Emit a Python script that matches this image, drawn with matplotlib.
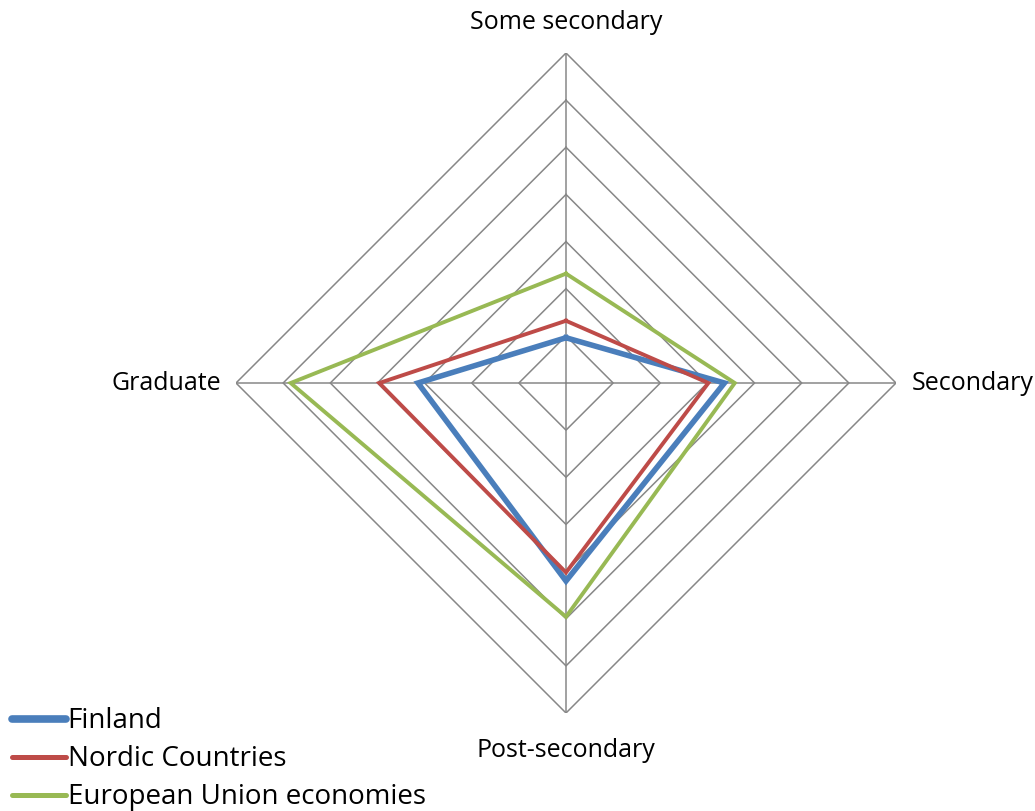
import numpy as np
import matplotlib
matplotlib.use("Agg")
import matplotlib.pyplot as plt

categories = ["Some secondary", "Secondary", "Post-secondary", "Graduate"]
finland = [4.8, 16.8, 21.0, 15.7]
nordic = [6.6, 15.1, 20.1, 19.8]
eu = [11.6, 17.9, 24.8, 29.2]
series_names = ["Finland", "Nordic Countries", "European Union economies"]
ring_levels = [5, 10, 15, 20, 25, 30, 35]

colors = ["#4A7EBB", "#BE4B48", "#98B954"]
widths = [4.0, 2.8, 2.8]
legend_widths = [5.5, 3.6, 3.6]

plt.rcParams["font.family"] = ["Open Sans", "DejaVu Sans"]

W, H = 1035, 811
fig = plt.figure(figsize=(W / 100, H / 100), dpi=100)
cx, cy, rad = 566, 383, 330
ax = fig.add_axes([(cx - rad) / W, (H - cy - rad) / H, 2 * rad / W, 2 * rad / H],
                  projection="polar")
ax.set_theta_zero_location("N")
ax.set_theta_direction(-1)
ax.set_ylim(0, ring_levels[-1])
ax.grid(False)
ax.spines["polar"].set_visible(False)
ax.set_xticks([])
ax.set_yticks([])
ax.patch.set_alpha(0)

angles = np.arange(len(categories)) * 2 * np.pi / len(categories)
closed = np.append(angles, angles[0])

# polygonal rings and spokes
grid_color = "#878787"
for lv in ring_levels:
    ax.plot(closed, [lv] * len(closed), color=grid_color, lw=1.1, zorder=1)
for a in angles:
    ax.plot([a, a], [0, ring_levels[-1]], color=grid_color, lw=1.1, zorder=1)

for vals, name, c, lw in zip([finland, nordic, eu], series_names, colors, widths):
    ax.plot(closed, vals + vals[:1], color=c, lw=lw, label=name,
            solid_joinstyle="miter", zorder=3)

# category labels outside the outer ring
offsets = [(0, 13, "center", "bottom"), (11, 0, "left", "center"),
           (0, -18, "center", "top"), (-11, 0, "right", "center")]
for a, lab, (dx, dy, ha, va) in zip(angles, categories, offsets):
    ax.annotate(lab, xy=(a, ring_levels[-1]), xytext=(dx, dy),
                textcoords="offset points", ha=ha, va=va, fontsize=18,
                annotation_clip=False)

leg = fig.legend(loc="lower left", bbox_to_anchor=(0.009, -0.004), frameon=False,
                 fontsize=20, handlelength=1.95, handletextpad=0.05,
                 labelspacing=0.36, borderpad=0.1, borderaxespad=0)
for h, lw in zip(leg.get_lines(), legend_widths):
    h.set_linewidth(lw)
    h.set_solid_capstyle("round")

fig.savefig("out.png", dpi=100)
